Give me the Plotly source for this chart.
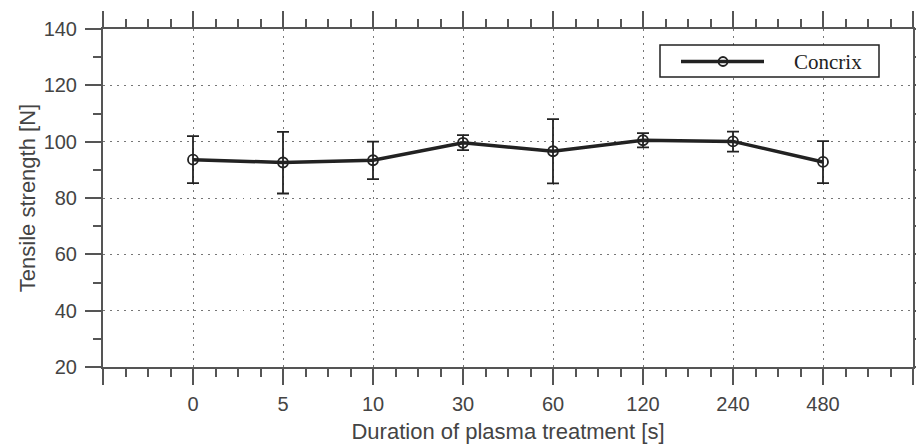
import plotly.graph_objects as go

categories = ["0", "5", "10", "30", "60", "120", "240", "480"]
strength = [93.6, 92.6, 93.4, 99.6, 96.6, 100.5, 100.1, 92.8]
err_upper = [102.0, 103.5, 100.0, 102.3, 108.0, 103.0, 103.6, 100.2]
err_lower = [85.3, 81.6, 86.7, 97.0, 85.2, 98.0, 96.5, 85.3]
y_ticks = [20, 40, 60, 80, 100, 120, 140]

xpos = list(range(len(categories)))
plus = [u - v for u, v in zip(err_upper, strength)]
minus = [v - l for v, l in zip(strength, err_lower)]

AX = "#555555"
TXT = "#444444"
GRID_DASH = "1.5px,5.5px"

fig = go.Figure()
fig.add_trace(go.Scatter(
    x=xpos, y=strength, mode="lines+markers", name="Concrix",
    line=dict(color="#222222", width=3.5),
    marker=dict(symbol="circle-open", size=10, color="#222222", line=dict(width=1.8)),
    error_y=dict(type="data", symmetric=False, array=plus, arrayminus=minus,
                 color="#222222", thickness=1.8, width=6),
    showlegend=False,
))

tickvals_x = [-1] + xpos + [len(categories)]
ticktext_x = [""] + categories + [""]

fig.update_layout(
    width=916, height=446,
    margin=dict(l=103, r=3, t=29, b=79, autoexpand=False),
    paper_bgcolor="white", plot_bgcolor="white",
    font=dict(family="Liberation Sans, Arial, sans-serif", size=20, color=TXT),
    xaxis=dict(
        range=[-1, len(categories)], tickvals=tickvals_x, ticktext=ticktext_x,
        ticks="outside", ticklen=16, tickwidth=2, tickcolor=AX,
        showline=True, linecolor=AX, linewidth=2, mirror="ticks",
        showgrid=True, gridcolor="#777777", griddash=GRID_DASH, gridwidth=1.3,
        zeroline=False, automargin=False, ticklabelstandoff=2,
        minor=dict(dtick=0.25, tick0=0, ticks="outside", ticklen=8, tickwidth=2,
                   tickcolor=AX, showgrid=False),
        title=dict(text="Duration of plasma treatment [s]", standoff=10,
                   font=dict(size=22, color=TXT)),
        tickfont=dict(size=20, color=TXT),
    ),
    yaxis=dict(
        range=[20, 140], tickvals=y_ticks,
        ticks="outside", ticklen=16, tickwidth=2, tickcolor=AX,
        showline=True, linecolor=AX, linewidth=2, mirror="ticks",
        showgrid=True, gridcolor="#777777", griddash=GRID_DASH, gridwidth=1.3,
        zeroline=False, automargin=False, ticklabelstandoff=4,
        minor=dict(dtick=10, tick0=0, ticks="outside", ticklen=8, tickwidth=2,
                   tickcolor=AX, showgrid=False),
        title=dict(text="Tensile strength [N]", standoff=2,
                   font=dict(size=22, color=TXT)),
        tickfont=dict(size=20, color=TXT),
    ),
)

# custom legend box (matches reference's long legend line)
def px_x(p):
    return (p - 103) / 810.0

def px_y(p):
    return 1 - (p - 29) / 338.0

fig.add_shape(type="rect", xref="paper", yref="paper",
              x0=px_x(660), x1=px_x(879), y0=px_y(77), y1=px_y(45),
              line=dict(color="#222222", width=1.5), fillcolor="white", layer="above")
fig.add_shape(type="line", xref="paper", yref="paper",
              x0=px_x(681), x1=px_x(764), y0=px_y(61.5), y1=px_y(61.5),
              line=dict(color="#222222", width=3.5), layer="above")
fig.add_shape(type="circle", xref="paper", yref="paper",
              x0=px_x(718.5), x1=px_x(727.5), y0=px_y(66), y1=px_y(57),
              line=dict(color="#222222", width=1.8), layer="above")
fig.add_annotation(xref="paper", yref="paper", x=px_x(792), y=px_y(61.5),
                   xanchor="left", yanchor="middle", showarrow=False,
                   text="Concrix",
                   font=dict(family="Liberation Serif, Times New Roman, serif", size=21, color="#222222"))

fig.write_html("out.html",
               config={"displayModeBar": False},
               post_script="document.body.style.margin='0';document.body.style.overflow='hidden';")
